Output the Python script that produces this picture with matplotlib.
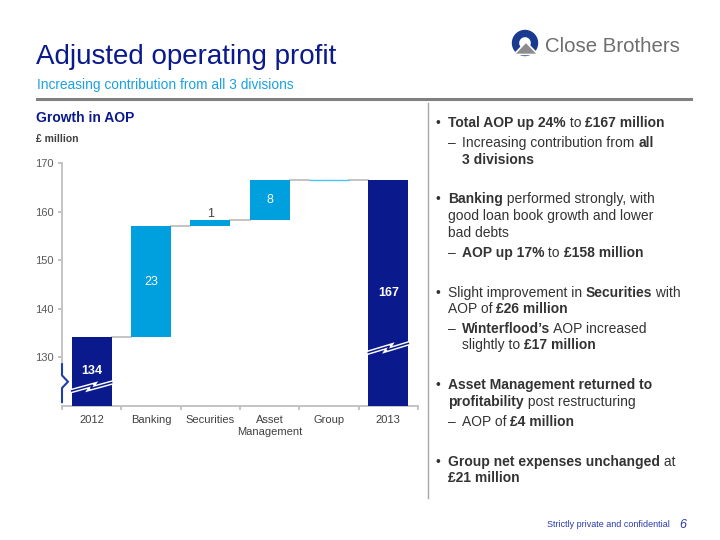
import matplotlib
matplotlib.use("Agg")
import matplotlib.pyplot as plt
from matplotlib.patches import Wedge, Polygon, Circle
import numpy as np

plt.rcParams['font.family'] = ['Liberation Sans', 'DejaVu Sans']

# ---------------- data ----------------
categories = ['2012', 'Banking', 'Securities', 'Asset\nManagement', 'Group', '2013']
start_total = 134.2
deltas = [22.8, 1.2, 8.2, 0.15]
end_total = 166.55
value_labels = ['134', '23', '1', '8', '', '167']
yticks = [130, 140, 150, 160, 170]

NAVY = '#0A1A8C'
LBLUE = '#009FDD'
GRID = '#BFBFBF'
TXT = '#333333'

W, H = 720, 540
fig = plt.figure(figsize=(7.2, 5.4), dpi=100)
fig.patch.set_facecolor('white')

# ---------------- chart axes ----------------
x0, x1, ytop, ybot = 62, 418, 163, 406
ax = fig.add_axes([x0 / W, 1 - ybot / H, (x1 - x0) / W, (ybot - ytop) / H])
ax.set_xlim(-0.5, 5.5)
ax.set_ylim(120, 170)
bw = 0.674
base = 120

levels = [start_total]
for d in deltas:
    levels.append(levels[-1] + d)
ax.bar(0, start_total - base, bottom=base, width=bw, color=NAVY, zorder=3)
for i, d in enumerate(deltas):
    col = LBLUE if i < 3 else '#4CC3F0'
    ax.bar(i + 1, d, bottom=levels[i], width=bw, color=col, zorder=3,
           edgecolor=col, linewidth=1.0 if i == 3 else 0)
ax.bar(5, end_total - base, bottom=base, width=bw, color=NAVY, zorder=3)

# connectors
tops = [start_total] + levels[1:]
for i in range(5):
    ax.plot([i + bw / 2, i + 1 - bw / 2], [tops[i], tops[i]], color=GRID, lw=1.3, zorder=2)

# value labels
lab_kw = dict(ha='center', va='center', fontsize=9, zorder=5)
ax.text(0, (base + start_total) / 2, value_labels[0], color='white', fontweight='bold', **lab_kw)
ax.text(1, (levels[0] + levels[1]) / 2, value_labels[1], color='white', **lab_kw)
ax.text(2, levels[2] + 1.3, value_labels[2], color='#404040', **lab_kw)
ax.text(3, (levels[2] + levels[3]) / 2, value_labels[3], color='white', **lab_kw)
ax.text(5, (base + end_total) / 2, value_labels[5], color='white', fontweight='bold', **lab_kw)

# break marks on total bars
def break_mark(xc, ylow, rise):
    xl, xr = xc - bw / 2, xc + bw / 2
    xs = np.array([xl, xc + 0.02, xc - 0.02, xr])
    ys = np.array([ylow, ylow + rise * 0.6, ylow + rise * 0.25, ylow + rise * 0.85])
    ax.plot(xs, ys, color='white', lw=3.2, zorder=4, solid_joinstyle='miter')
    ax.plot(xs, ys, color=NAVY, lw=1.1, zorder=4.5, solid_joinstyle='miter')

break_mark(0, 123.1, 2.0)
break_mark(5, 131.0, 2.2)

# spines & ticks
for s in ['top', 'right', 'left']:
    ax.spines[s].set_visible(False)
ax.spines['bottom'].set_color(GRID)
ax.spines['bottom'].set_linewidth(1.3)
ax.plot([-0.5, -0.5], [128.8, 170], color=GRID, lw=1.3, clip_on=False, zorder=2)
bx = 6 / 59.33
ax.plot([-0.5, -0.5, -0.5 + bx, -0.5, -0.5], [128.6, 126.3, 125.0, 123.7, 120.8],
        color='#1F3FA8', lw=1.5, clip_on=False, zorder=6)

ax.set_yticks(yticks)
ax.set_yticklabels([str(v) for v in yticks])
ax.tick_params(axis='y', length=3, color=GRID, width=1.3, labelsize=8, labelcolor='#595959', pad=3)
ax.set_xticks(np.arange(-0.5, 6.0, 1.0))
ax.set_xticklabels([])
ax.tick_params(axis='x', which='major', length=3, color=GRID, width=1.3)
ax.set_xticks(range(len(categories)), minor=True)
ax.set_xticklabels(categories, minor=True, fontsize=8, color='#404040', linespacing=1.2)
ax.tick_params(axis='x', which='minor', length=0, pad=6.5)

# ---------------- overlay (pixel coordinates) ----------------
ov = fig.add_axes([0, 0, 1, 1], zorder=10)
ov.set_xlim(0, W)
ov.set_ylim(H, 0)
ov.axis('off')
ov.patch.set_alpha(0)

ov.text(36, 63.5, 'Adjusted operating profit', fontsize=20, color=NAVY, va='baseline')
ov.text(37, 89, 'Increasing contribution from all 3 divisions', fontsize=9.9, color='#1BA1E2', va='baseline')
ov.plot([37, 691], [98.5, 98.5], color='#808080', lw=2.2)

# logo
ov.add_patch(Wedge((525, 43), 12.5, 0, 360, width=6.0, color='#1A3A8F'))
ov.add_patch(Polygon([(526, 42), (514, 54.5), (538, 54.5)], closed=True,
                     facecolor='#8C8C8C', edgecolor='white', lw=1.2))
ov.text(545, 52, 'Close Brothers', fontsize=14.7, color='#6E6E6E', va='baseline')

# chart headings
ov.text(36, 122, 'Growth in AOP', fontsize=10, fontweight='bold', color=NAVY, va='baseline')
ov.text(36, 142, '£ million', fontsize=7.5, fontweight='bold', color='#404040', va='baseline')

# divider
ov.plot([428, 428], [103, 498], color='#A6A6A6', lw=1.0)

# rich text bullets
r = fig.canvas.get_renderer()
FS = 10

def seg_width(txt, bold):
    t1 = ov.text(0, 0, txt + '|', fontsize=FS, fontweight='bold' if bold else 'normal')
    t2 = ov.text(0, 0, '|', fontsize=FS, fontweight='bold' if bold else 'normal')
    w = t1.get_window_extent(renderer=r).width - t2.get_window_extent(renderer=r).width
    t1.remove(); t2.remove()
    return w

def rich(x, y, parts):
    cur = x
    for txt, bold in parts:
        ov.text(cur, y, txt, fontsize=FS, fontweight='bold' if bold else 'normal',
                color=TXT, va='baseline', ha='left')
        cur += seg_width(txt, bold)

bul_x, txt_x, sub_x = 436, 448, 462
def bullet(y):
    ov.text(bul_x, y, '•', fontsize=FS, color=TXT, va='baseline')
def dash(y):
    ov.text(txt_x, y, '–', fontsize=FS, color=TXT, va='baseline')

lines = [
    ('b', 127, [('Total AOP up 24%', True), (' to ', False), ('£167 million', True)]),
    ('d', 147, [('Increasing contribution from ', False), ('all', True)]),
    ('c', 164, [('3 divisions', True)]),
    ('b', 203, [('Banking', True), (' performed strongly, with', False)]),
    ('n', 220, [('good loan book growth and lower', False)]),
    ('n', 237, [('bad debts', False)]),
    ('d', 257, [('AOP up 17%', True), (' to ', False), ('£158 million', True)]),
    ('b', 297, [('Slight improvement in ', False), ('Securities', True), (' with', False)]),
    ('n', 313, [('AOP of ', False), ('£26 million', True)]),
    ('d', 333, [('Winterflood’s', True), (' AOP increased', False)]),
    ('c', 349, [('slightly to ', False), ('£17 million', True)]),
    ('b', 389, [('Asset Management returned to', True)]),
    ('n', 406, [('profitability', True), (' post restructuring', False)]),
    ('d', 426, [('AOP of ', False), ('£4 million', True)]),
    ('b', 466, [('Group net expenses unchanged', True), (' at', False)]),
    ('n', 482, [('£21 million', True)]),
]
for kind, y, parts in lines:
    if kind == 'b':
        bullet(y); rich(txt_x, y, parts)
    elif kind == 'n':
        rich(txt_x, y, parts)
    elif kind == 'd':
        dash(y); rich(sub_x, y, parts)
    else:
        rich(sub_x, y, parts)

# footer
ov.text(670, 527, 'Strictly private and confidential', fontsize=6.5, color='#2A3BAA',
        va='baseline', ha='right')
ov.text(679, 527.5, '6', fontsize=9, color='#2A3BAA', va='baseline', fontstyle='italic')

fig.savefig('out.png', dpi=100, facecolor='white')
